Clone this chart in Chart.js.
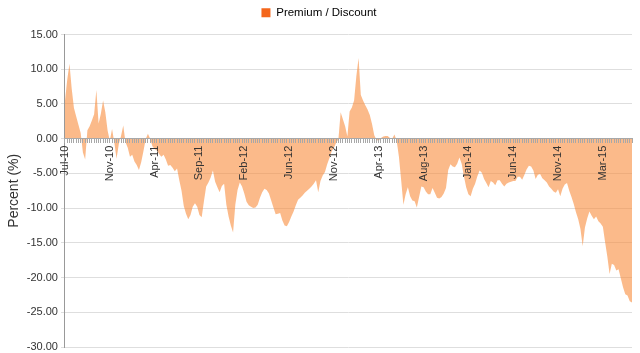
<!DOCTYPE html>
<html>
<head>
<meta charset="utf-8">
<script src="https://cdn.jsdelivr.net/npm/chart.js@4/dist/chart.umd.min.js"></script>
<style>
  body { margin: 0; background: #fff; }
</style>
</head>
<body>
<canvas id="premiumChart" width="640" height="353"></canvas>
<script>
// weekly premium / discount values, Jul-10 .. May-15
const premiumDiscount = [
    5.5, 8.5, 10.8, 7.2, 4.4, 3.2, 2.0, 0.8, -2.0, -3.0,
    1.2, 1.8, 2.6, 3.5, 7.0, 2.2, 3.6, 5.5, 3.8, 1.2,
    -0.3, 1.4, -0.5, -2.9, -0.8, 0.4, 1.9, -0.5, -1.3, -2.6,
    -2.3, -3.3, -3.8, -4.5, -3.4, -1.8, -0.1, 0.7, 0.0, -1.1,
    -1.5, -1.7, -2.2, -2.6, -2.3, -3.0, -3.9, -3.8, -4.2, -4.7,
    -4.3, -6.0, -7.5, -9.7, -10.8, -11.6, -11.0, -9.8, -9.3, -9.8,
    -11.0, -11.3, -9.0, -6.9, -6.3, -5.6, -4.6, -6.2, -7.0, -7.7,
    -6.8, -6.5, -9.5, -11.2, -12.5, -13.5, -9.5, -7.4, -6.3, -6.9,
    -7.9, -9.1, -9.6, -9.8, -10.0, -9.9, -9.5, -8.5, -7.7, -7.2,
    -7.4, -7.9, -8.9, -9.9, -10.9, -10.8, -10.7, -11.8, -12.5, -12.6,
    -12.0, -11.2, -10.5, -9.6, -8.8, -8.5, -8.2, -7.8, -7.5, -7.2,
    -6.9, -6.5, -6.0, -7.7, -6.1, -5.3, -4.8, -3.7, -2.8, -1.8,
    -1.3, -0.6, -0.1, 3.8, 2.8, 1.8, 0.3, 3.9, 4.5, 5.5,
    9.0, 11.6, 6.3, 5.5, 4.8, 4.2, 3.4, 2.1, 0.5, -0.2,
    -0.3, 0.1, 0.3, 0.4, 0.4, 0.1, 0.0, 0.6, -0.3, -2.6,
    -6.0, -9.5, -8.0, -7.0, -8.3, -8.9, -9.0, -9.9, -8.4, -6.9,
    -7.0, -7.6, -8.0, -8.0, -7.1, -7.8, -8.5, -8.6, -8.4, -7.9,
    -7.1, -4.5, -3.7, -4.0, -4.1, -3.6, -2.7, -3.6, -5.4, -7.0,
    -8.0, -8.3, -7.2, -6.5, -5.4, -4.6, -4.9, -5.8, -6.4, -7.0,
    -6.1, -6.3, -6.7, -6.0, -6.0, -6.5, -6.9, -6.5, -6.3, -6.2,
    -6.1, -6.1, -5.5, -5.5, -5.9, -5.2, -4.4, -3.9, -4.0, -4.6,
    -5.8, -5.2, -5.1, -5.7, -6.0, -6.3, -6.9, -7.2, -7.6, -7.8,
    -7.3, -8.3, -7.2, -6.6, -6.4, -7.5, -8.4, -9.4, -10.6, -11.6,
    -13.0, -15.5, -12.8, -11.5, -10.5, -11.1, -11.6, -11.2, -11.9, -12.2,
    -12.7, -14.9, -17.0, -19.5, -18.0, -18.2, -19.0, -18.8, -20.1, -21.4,
    -22.4, -22.6, -23.4, -23.6
];

// labels shown on the x axis, one every 20 weeks
const tickLabels = ['Jul-10', 'Nov-10', 'Apr-11', 'Sep-11', 'Feb-12', 'Jun-12', 'Nov-12',
    'Apr-13', 'Aug-13', 'Jan-14', 'Jun-14', 'Nov-14', 'Mar-15'];
const labelStep = 20;

const yTicks = [-30, -25, -20, -15, -10, -5, 0, 5, 10, 15];

const weeks = premiumDiscount.map(function(v, i) {
    return i % labelStep === 0 && tickLabels[i / labelStep] ? tickLabels[i / labelStep] : '';
});

// a bit more room under the legend
const legendGap = {
    id: 'legendGap',
    beforeInit: function(chart) {
        const fit = chart.legend.fit;
        chart.legend.fit = function() {
            fit.bind(chart.legend)();
            this.height += 6;
        };
    }
};

Chart.defaults.font.family = '"Liberation Sans", Arial, sans-serif';
Chart.defaults.color = '#333';

const ctx = document.getElementById('premiumChart').getContext('2d');
new Chart(ctx, {
    type: 'line',
    data: {
        labels: weeks,
        datasets: [{
            label: 'Premium / Discount',
            data: premiumDiscount,
            backgroundColor: 'rgba(248, 140, 60, 0.6)',
            borderWidth: 0,
            pointRadius: 0,
            fill: 'origin',
            tension: 0
        }]
    },
    options: {
        responsive: false,
        animation: false,
        layout: {
            padding: { top: 1, right: 8, left: 6, bottom: 1 }
        },
        plugins: {
            tooltip: { enabled: false },
            legend: {
                position: 'top',
                labels: {
                    boxWidth: 9,
                    boxHeight: 9,
                    padding: 6,
                    font: { size: 11.5 },
                    color: '#333',
                    generateLabels: function(chart) {
                        return [{
                            text: 'Premium / Discount',
                            fillStyle: '#f4661b',
                            strokeStyle: '#f4661b',
                            lineWidth: 0,
                            datasetIndex: 0
                        }];
                    }
                }
            }
        },
        scales: {
            x: {
                position: { y: 0 },
                offset: false,
                afterFit: function(scale) {
                    scale.paddingLeft = 0;
                    scale.paddingRight = 0;
                },
                grid: {
                    drawOnChartArea: false,
                    drawTicks: true,
                    tickLength: 4,
                    color: '#a8a8a8',
                    z: 1
                },
                border: { color: '#a8a8a8', z: 1 },
                ticks: {
                    autoSkip: false,
                    maxRotation: 90,
                    minRotation: 90,
                    padding: 3,
                    font: { size: 11 },
                    color: '#333',
                    z: 1
                }
            },
            y: {
                min: yTicks[0],
                max: yTicks[yTicks.length - 1],
                afterBuildTicks: function(axis) {
                    axis.ticks = yTicks.map(function(v) { return { value: v }; });
                },
                afterFit: function(scale) {
                    scale.paddingBottom = 6;
                },
                title: {
                    display: true,
                    text: 'Percent (%)',
                    font: { size: 14 },
                    color: '#333',
                    padding: { top: 0, bottom: 1 }
                },
                grid: {
                    color: '#dedede',
                    tickLength: 4
                },
                border: { color: '#999' },
                ticks: {
                    font: { size: 11 },
                    color: '#333',
                    padding: 3,
                    callback: function(value) {
                        return Number(value).toFixed(2);
                    }
                }
            }
        }
    },
    plugins: [legendGap]
});
</script>
</body>
</html>
